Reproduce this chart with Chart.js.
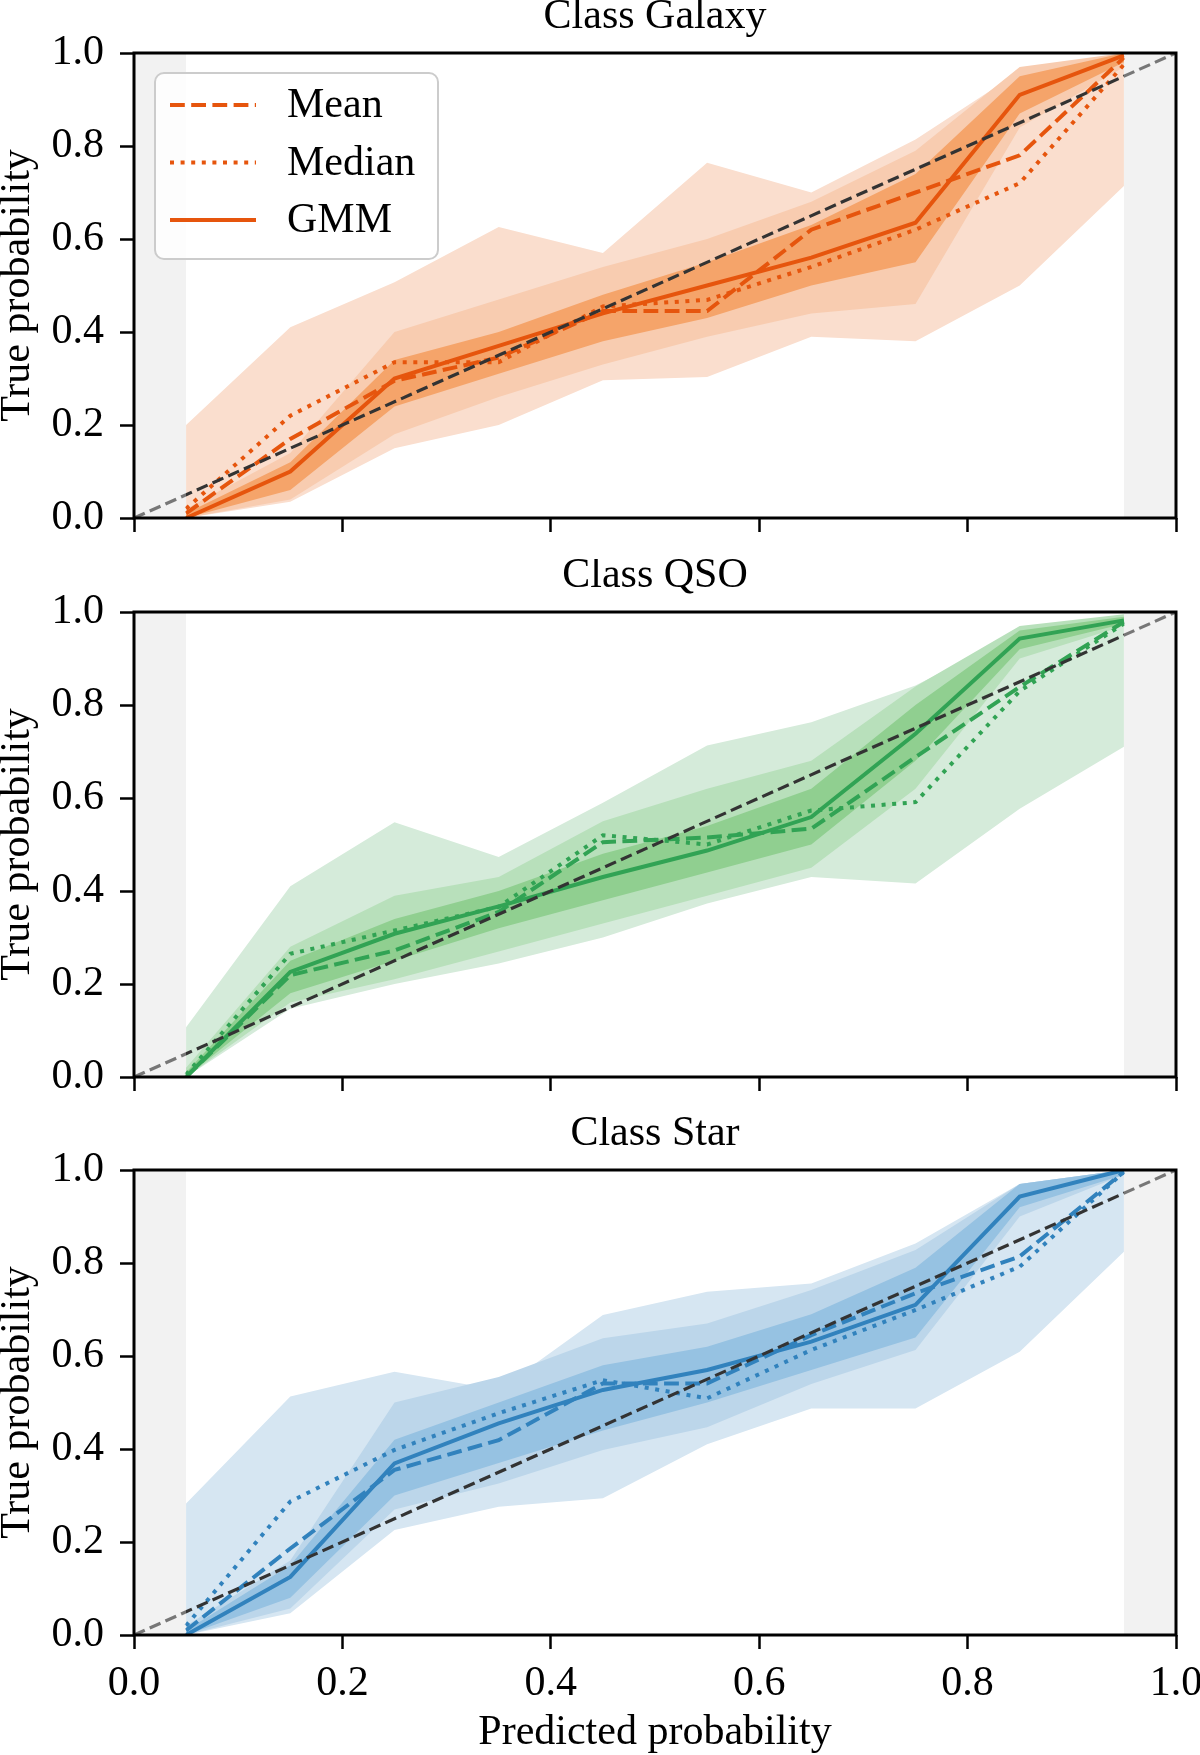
<!DOCTYPE html>
<html>
<head>
<meta charset="utf-8">
<title>Calibration curves</title>
<script src="https://cdn.jsdelivr.net/npm/chart.js@4.4.1/dist/chart.umd.min.js"></script>
<style>
	html, body { margin: 0; padding: 0; background: #fff; }
	#figure { position: relative; width: 1200px; height: 1755px; }
	#figure canvas { position: absolute; left: 0; }
</style>
</head>
<body>
<div id="figure">
	<canvas id="panel-galaxy" width="1200" height="560" style="top:0px"></canvas>
	<canvas id="panel-qso" width="1200" height="560" style="top:559px"></canvas>
	<canvas id="panel-star" width="1200" height="638" style="top:1117px"></canvas>
</div>
<script>
// bin centres of the predicted probability
const BIN_CENTERS = [0.05, 0.15, 0.25, 0.35, 0.45, 0.55, 0.65, 0.75, 0.85, 0.95];
const AXIS_TICKS = [0, 0.2, 0.4, 0.6, 0.8, 1.0];
const EXCLUDED_RANGES = [[0, 0.05], [0.95, 1]];
const IDEAL_LINE = [0, 1];

// Class Galaxy
const GALAXY_MEAN = [0.01, 0.17, 0.295, 0.345, 0.445, 0.445, 0.62, 0.70, 0.78, 0.99];
const GALAXY_MEDIAN = [0.02, 0.22, 0.335, 0.335, 0.455, 0.469, 0.54, 0.62, 0.72, 0.975];
const GALAXY_GMM = [0.0, 0.10, 0.30, 0.37, 0.44, 0.50, 0.56, 0.635, 0.91, 0.995];
const GALAXY_MIN = [0.0, 0.035, 0.15, 0.20, 0.296, 0.303, 0.39, 0.38, 0.50, 0.714];
const GALAXY_MAX = [0.20, 0.41, 0.507, 0.626, 0.57, 0.764, 0.70, 0.814, 0.96, 0.995];
const GALAXY_WIDE_LOW = [0.0, 0.04, 0.18, 0.26, 0.33, 0.39, 0.44, 0.46, 0.84, 0.97];
const GALAXY_WIDE_HIGH = [0.02, 0.14, 0.40, 0.47, 0.54, 0.60, 0.68, 0.79, 0.97, 1.0];
const GALAXY_CORE_LOW = [0.0, 0.06, 0.24, 0.31, 0.38, 0.43, 0.50, 0.55, 0.87, 0.98];
const GALAXY_CORE_HIGH = [0.01, 0.12, 0.34, 0.40, 0.48, 0.55, 0.63, 0.74, 0.95, 1.0];

// Class QSO
const QSO_MEAN = [0.0, 0.219, 0.272, 0.355, 0.505, 0.515, 0.534, 0.688, 0.839, 0.979];
const QSO_MEDIAN = [0.005, 0.265, 0.315, 0.366, 0.52, 0.50, 0.573, 0.591, 0.83, 0.975];
const QSO_GMM = [0.0, 0.226, 0.308, 0.367, 0.43, 0.487, 0.559, 0.738, 0.943, 0.982];
const QSO_MIN = [0.0, 0.147, 0.20, 0.244, 0.30, 0.373, 0.43, 0.416, 0.577, 0.71];
const QSO_MAX = [0.107, 0.41, 0.548, 0.473, 0.59, 0.713, 0.763, 0.842, 0.957, 0.99];
const QSO_WIDE_LOW = [0.0, 0.16, 0.21, 0.27, 0.33, 0.39, 0.45, 0.62, 0.90, 0.97];
const QSO_WIDE_HIGH = [0.02, 0.28, 0.39, 0.43, 0.55, 0.62, 0.68, 0.84, 0.97, 0.995];
const QSO_CORE_LOW = [0.0, 0.18, 0.25, 0.32, 0.38, 0.44, 0.50, 0.68, 0.92, 0.975];
const QSO_CORE_HIGH = [0.01, 0.25, 0.34, 0.40, 0.48, 0.54, 0.62, 0.80, 0.96, 0.99];

// Class Star
const STAR_MEAN = [0.01, 0.186, 0.355, 0.419, 0.541, 0.541, 0.645, 0.735, 0.814, 0.996];
const STAR_MEDIAN = [0.02, 0.287, 0.398, 0.477, 0.548, 0.509, 0.613, 0.699, 0.792, 0.996];
const STAR_GMM = [0.0, 0.125, 0.369, 0.455, 0.527, 0.57, 0.631, 0.71, 0.943, 1.0];
const STAR_MIN = [0.0, 0.047, 0.226, 0.276, 0.294, 0.41, 0.487, 0.487, 0.609, 0.824];
const STAR_MAX = [0.283, 0.513, 0.566, 0.527, 0.688, 0.738, 0.756, 0.842, 0.97, 1.0];
const STAR_WIDE_LOW = [0.0, 0.057, 0.27, 0.326, 0.398, 0.447, 0.54, 0.613, 0.90, 0.99];
const STAR_WIDE_HIGH = [0.02, 0.16, 0.50, 0.555, 0.638, 0.67, 0.742, 0.828, 0.97, 1.0];
const STAR_CORE_LOW = [0.0, 0.08, 0.30, 0.37, 0.44, 0.50, 0.57, 0.64, 0.92, 0.99];
const STAR_CORE_HIGH = [0.01, 0.15, 0.42, 0.50, 0.58, 0.62, 0.69, 0.79, 0.97, 1.0];

const FONT_FAMILY = "'Liberation Serif', 'DejaVu Serif', serif";
const FONT_SIZE = 42;

const toPoints = (xs, ys) => xs.map((x, i) => ({ x: x, y: ys[i] }));

// title centred over the axes (not over the whole canvas)
const axesTitle = {
	id: "axesTitle",
	afterDraw(chart, args, opts) {
		const ctx = chart.ctx;
		const a = chart.chartArea;
		ctx.save();
		ctx.fillStyle = "#000";
		ctx.font = FONT_SIZE + "px " + FONT_FAMILY;
		ctx.textAlign = "center";
		ctx.textBaseline = "middle";
		ctx.fillText(opts.text, (a.left + a.right) / 2, a.top - 36);
		ctx.restore();
	},
};

// draws the legend inside the plot area, like matplotlib does
const insideLegend = {
	id: "insideLegend",
	afterDatasetsDraw(chart, args, opts) {
		if (!opts.display) {
			return;
		}
		const ctx = chart.ctx;
		const area = chart.chartArea;
		const x = area.left + 21;
		const y = area.top + 20;
		const items = chart.data.datasets.filter((d) => d.inLegend);

		ctx.save();
		ctx.beginPath();
		ctx.roundRect(x, y, 283, 186, 9);
		ctx.fillStyle = "rgba(255,255,255,0.8)";
		ctx.fill();
		ctx.lineWidth = 2;
		ctx.strokeStyle = "#cccccc";
		ctx.stroke();

		items.forEach((item, i) => {
			const cy = y + 32 + i * 57.5;
			ctx.beginPath();
			ctx.setLineDash(item.borderDash || []);
			ctx.lineWidth = item.borderWidth;
			ctx.strokeStyle = item.borderColor;
			ctx.moveTo(x + 15, cy);
			ctx.lineTo(x + 101, cy);
			ctx.stroke();
			ctx.setLineDash([]);
			ctx.fillStyle = "#000";
			ctx.font = FONT_SIZE + "px " + FONT_FAMILY;
			ctx.textBaseline = "middle";
			ctx.textAlign = "left";
			ctx.fillText(item.label, x + 132, cy + 1);
		});
		ctx.restore();
	},
};

// black frame round the axes
const axesFrame = {
	id: "axesFrame",
	afterDraw(chart) {
		const ctx = chart.ctx;
		const a = chart.chartArea;
		ctx.save();
		ctx.lineWidth = 3;
		ctx.strokeStyle = "#000";
		ctx.strokeRect(a.left, a.top, a.right - a.left, a.bottom - a.top);
		ctx.restore();
	},
};

function makePanel(canvasId, cfg) {
	const band = (low, high, color, order) => [
		{
			label: "_low",
			data: toPoints(BIN_CENTERS, low),
			borderWidth: 0,
			pointRadius: 0,
			fill: false,
			order: order,
		},
		{
			label: "_high",
			data: toPoints(BIN_CENTERS, high),
			borderWidth: 0,
			pointRadius: 0,
			backgroundColor: color,
			fill: "-1",
			order: order,
		},
	];

	const datasets = [];
	datasets.push(...band(cfg.min, cfg.max, cfg.outerColor, 90));
	datasets.push(...band(cfg.wideLow, cfg.wideHigh, cfg.wideColor, 80));
	datasets.push(...band(cfg.coreLow, cfg.coreHigh, cfg.coreColor, 70));

	datasets.push({
		label: "Mean",
		inLegend: true,
		data: toPoints(BIN_CENTERS, cfg.mean),
		borderColor: cfg.lineColor,
		borderWidth: 4,
		borderDash: [14.8, 6.4],
		pointRadius: 0,
		fill: false,
		order: 12,
	});
	datasets.push({
		label: "Median",
		inLegend: true,
		data: toPoints(BIN_CENTERS, cfg.median),
		borderColor: cfg.lineColor,
		borderWidth: 4,
		borderDash: [4, 6.6],
		pointRadius: 0,
		fill: false,
		order: 11,
	});
	datasets.push({
		label: "GMM",
		inLegend: true,
		data: toPoints(BIN_CENTERS, cfg.gmm),
		borderColor: cfg.lineColor,
		borderWidth: 4,
		pointRadius: 0,
		fill: false,
		order: 10,
	});
	datasets.push({
		label: "_ideal",
		data: toPoints(IDEAL_LINE, IDEAL_LINE),
		borderColor: "#333333",
		borderWidth: 3.2,
		borderDash: [11.8, 5.4],
		pointRadius: 0,
		fill: false,
		order: 3,
	});
	// light grey spans over the outermost bins, drawn over the diagonal
	EXCLUDED_RANGES.forEach((range) => {
		datasets.push({
			label: "_excluded",
			data: toPoints(range, [1, 1]),
			borderWidth: 0,
			pointRadius: 0,
			backgroundColor: "rgba(222,222,222,0.4)",
			fill: "origin",
			order: 2,
		});
	});

	const fixedTicks = (scale) => {
		scale.ticks = AXIS_TICKS.map((v) => ({ value: v }));
	};

	return new Chart(document.getElementById(canvasId), {
		type: "line",
		data: { datasets: datasets },
		plugins: [insideLegend, axesFrame, axesTitle],
		options: {
			responsive: false,
			animation: false,
			devicePixelRatio: 1,
			layout: { padding: { left: 0, right: 24, top: 53, bottom: 0 } },
			plugins: {
				legend: { display: false },
				tooltip: { enabled: false },
				title: { display: false },
				axesTitle: { text: cfg.title },
				insideLegend: { display: cfg.legend },
				filler: { propagate: false },
			},
			scales: {
				x: {
					type: "linear",
					min: 0,
					max: 1,
					afterBuildTicks: fixedTicks,
					afterFit: (scale) => {
						scale.height = cfg.xAxisHeight;
						scale.paddingLeft = 0;
						scale.paddingRight = 0;
					},
					border: { display: false },
					grid: {
						drawOnChartArea: false,
						drawTicks: true,
						tickLength: 14,
						tickWidth: 2.5,
						tickColor: "#000",
					},
					ticks: {
						display: cfg.xLabels,
						padding: 10,
						color: "#000",
						font: { family: FONT_FAMILY, size: FONT_SIZE },
						callback: (v) => Number(v).toFixed(1),
						maxRotation: 0,
					},
					title: {
						display: cfg.xLabels,
						text: "Predicted probability",
						color: "#000",
						font: { family: FONT_FAMILY, size: FONT_SIZE, lineHeight: 1.0 },
						padding: { top: 0, bottom: 1 },
					},
				},
				y: {
					type: "linear",
					min: 0,
					max: 1,
					afterBuildTicks: fixedTicks,
					afterFit: (scale) => {
						scale.width = 134;
						scale.paddingTop = 0;
						scale.paddingBottom = 0;
					},
					border: { display: false },
					grid: {
						drawOnChartArea: false,
						drawTicks: true,
						tickLength: 14,
						tickWidth: 2.5,
						tickColor: "#000",
					},
					ticks: {
						padding: 16,
						color: "#000",
						font: { family: FONT_FAMILY, size: FONT_SIZE },
						callback: (v) => Number(v).toFixed(1),
					},
					title: {
						display: true,
						text: "True probability",
						color: "#000",
						font: { family: FONT_FAMILY, size: FONT_SIZE, lineHeight: 0.85 },
						padding: { top: 0, bottom: 0 },
					},
				},
			},
		},
	});
}

makePanel("panel-galaxy", {
	title: "Class Galaxy",
	legend: true,
	xLabels: false,
	xAxisHeight: 42,
	lineColor: "#e6550d",
	outerColor: "rgb(250,222,206)",
	wideColor: "rgb(248,204,176)",
	coreColor: "rgb(245,164,106)",
	mean: GALAXY_MEAN,
	median: GALAXY_MEDIAN,
	gmm: GALAXY_GMM,
	min: GALAXY_MIN,
	max: GALAXY_MAX,
	wideLow: GALAXY_WIDE_LOW,
	wideHigh: GALAXY_WIDE_HIGH,
	coreLow: GALAXY_CORE_LOW,
	coreHigh: GALAXY_CORE_HIGH,
});

makePanel("panel-qso", {
	title: "Class QSO",
	legend: false,
	xLabels: false,
	xAxisHeight: 42,
	lineColor: "#31a354",
	outerColor: "rgb(213,235,218)",
	wideColor: "rgb(184,224,187)",
	coreColor: "rgb(144,207,144)",
	mean: QSO_MEAN,
	median: QSO_MEDIAN,
	gmm: QSO_GMM,
	min: QSO_MIN,
	max: QSO_MAX,
	wideLow: QSO_WIDE_LOW,
	wideHigh: QSO_WIDE_HIGH,
	coreLow: QSO_CORE_LOW,
	coreHigh: QSO_CORE_HIGH,
});

makePanel("panel-star", {
	title: "Class Star",
	legend: false,
	xLabels: true,
	xAxisHeight: 120,
	lineColor: "#3182bd",
	outerColor: "rgb(214,230,242)",
	wideColor: "rgb(188,214,234)",
	coreColor: "rgb(150,194,226)",
	mean: STAR_MEAN,
	median: STAR_MEDIAN,
	gmm: STAR_GMM,
	min: STAR_MIN,
	max: STAR_MAX,
	wideLow: STAR_WIDE_LOW,
	wideHigh: STAR_WIDE_HIGH,
	coreLow: STAR_CORE_LOW,
	coreHigh: STAR_CORE_HIGH,
});
</script>
</body>
</html>
